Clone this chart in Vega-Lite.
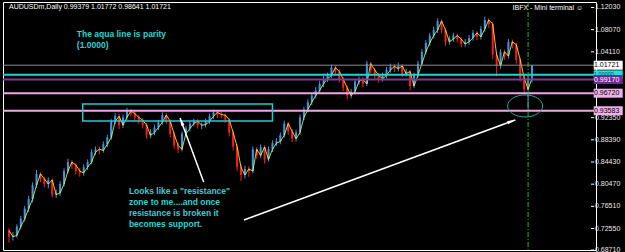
{
 "$schema": "https://vega.github.io/schema/vega-lite/v6.json",
 "width": 593, "height": 248,
 "autosize": {"type": "none"},
 "padding": {"left": 3, "top": 2, "right": 29, "bottom": 2},
 "background": "#000000",
 "config": {"view": {"stroke": "#ffffff", "strokeWidth": 1, "fill": "#000000"}, "font": "Liberation Sans"},
 "datasets": {
  "candles": [
{"i":0,"o":0.722,"h":0.726,"l":0.700,"c":0.711},
{"i":1,"o":0.711,"h":0.719,"l":0.704,"c":0.713},
{"i":2,"o":0.713,"h":0.733,"l":0.709,"c":0.729},
{"i":3,"o":0.729,"h":0.748,"l":0.724,"c":0.743},
{"i":4,"o":0.743,"h":0.766,"l":0.738,"c":0.761},
{"i":5,"o":0.761,"h":0.784,"l":0.755,"c":0.778},
{"i":6,"o":0.778,"h":0.808,"l":0.772,"c":0.803},
{"i":7,"o":0.803,"h":0.830,"l":0.798,"c":0.823},
{"i":8,"o":0.823,"h":0.826,"l":0.808,"c":0.814},
{"i":9,"o":0.814,"h":0.818,"l":0.799,"c":0.805},
{"i":10,"o":0.805,"h":0.817,"l":0.797,"c":0.812},
{"i":11,"o":0.812,"h":0.815,"l":0.781,"c":0.786},
{"i":12,"o":0.786,"h":0.795,"l":0.780,"c":0.789},
{"i":13,"o":0.789,"h":0.810,"l":0.784,"c":0.805},
{"i":14,"o":0.805,"h":0.833,"l":0.801,"c":0.828},
{"i":15,"o":0.828,"h":0.850,"l":0.824,"c":0.844},
{"i":16,"o":0.844,"h":0.848,"l":0.832,"c":0.839},
{"i":17,"o":0.839,"h":0.842,"l":0.822,"c":0.828},
{"i":18,"o":0.828,"h":0.834,"l":0.818,"c":0.825},
{"i":19,"o":0.825,"h":0.840,"l":0.820,"c":0.835},
{"i":20,"o":0.835,"h":0.849,"l":0.830,"c":0.844},
{"i":21,"o":0.844,"h":0.867,"l":0.840,"c":0.862},
{"i":22,"o":0.862,"h":0.872,"l":0.857,"c":0.867},
{"i":23,"o":0.867,"h":0.872,"l":0.858,"c":0.865},
{"i":24,"o":0.865,"h":0.881,"l":0.861,"c":0.876},
{"i":25,"o":0.876,"h":0.893,"l":0.871,"c":0.888},
{"i":26,"o":0.888,"h":0.921,"l":0.884,"c":0.917},
{"i":27,"o":0.917,"h":0.932,"l":0.912,"c":0.926},
{"i":28,"o":0.926,"h":0.930,"l":0.903,"c":0.910},
{"i":29,"o":0.910,"h":0.929,"l":0.905,"c":0.924},
{"i":30,"o":0.924,"h":0.941,"l":0.919,"c":0.935},
{"i":31,"o":0.935,"h":0.939,"l":0.925,"c":0.931},
{"i":32,"o":0.931,"h":0.935,"l":0.918,"c":0.924},
{"i":33,"o":0.924,"h":0.928,"l":0.912,"c":0.919},
{"i":34,"o":0.919,"h":0.923,"l":0.904,"c":0.910},
{"i":35,"o":0.910,"h":0.914,"l":0.886,"c":0.892},
{"i":36,"o":0.892,"h":0.903,"l":0.887,"c":0.897},
{"i":37,"o":0.897,"h":0.911,"l":0.892,"c":0.906},
{"i":38,"o":0.906,"h":0.920,"l":0.901,"c":0.915},
{"i":39,"o":0.915,"h":0.933,"l":0.911,"c":0.928},
{"i":40,"o":0.928,"h":0.932,"l":0.912,"c":0.917},
{"i":41,"o":0.917,"h":0.920,"l":0.888,"c":0.894},
{"i":42,"o":0.894,"h":0.898,"l":0.868,"c":0.874},
{"i":43,"o":0.874,"h":0.879,"l":0.860,"c":0.867},
{"i":44,"o":0.867,"h":0.899,"l":0.863,"c":0.895},
{"i":45,"o":0.895,"h":0.909,"l":0.890,"c":0.904},
{"i":46,"o":0.904,"h":0.918,"l":0.899,"c":0.913},
{"i":47,"o":0.913,"h":0.922,"l":0.908,"c":0.917},
{"i":48,"o":0.917,"h":0.921,"l":0.904,"c":0.910},
{"i":49,"o":0.910,"h":0.915,"l":0.903,"c":0.911},
{"i":50,"o":0.911,"h":0.922,"l":0.906,"c":0.917},
{"i":51,"o":0.917,"h":0.931,"l":0.912,"c":0.926},
{"i":52,"o":0.926,"h":0.938,"l":0.921,"c":0.933},
{"i":53,"o":0.933,"h":0.937,"l":0.923,"c":0.929},
{"i":54,"o":0.929,"h":0.934,"l":0.922,"c":0.928},
{"i":55,"o":0.928,"h":0.931,"l":0.914,"c":0.920},
{"i":56,"o":0.920,"h":0.923,"l":0.890,"c":0.897},
{"i":57,"o":0.897,"h":0.900,"l":0.865,"c":0.872},
{"i":58,"o":0.872,"h":0.876,"l":0.828,"c":0.835},
{"i":59,"o":0.835,"h":0.840,"l":0.810,"c":0.821},
{"i":60,"o":0.821,"h":0.838,"l":0.815,"c":0.832},
{"i":61,"o":0.832,"h":0.837,"l":0.818,"c":0.828},
{"i":62,"o":0.828,"h":0.872,"l":0.824,"c":0.867},
{"i":63,"o":0.867,"h":0.871,"l":0.850,"c":0.856},
{"i":64,"o":0.856,"h":0.876,"l":0.851,"c":0.871},
{"i":65,"o":0.871,"h":0.874,"l":0.842,"c":0.849},
{"i":66,"o":0.849,"h":0.872,"l":0.845,"c":0.867},
{"i":67,"o":0.867,"h":0.883,"l":0.862,"c":0.878},
{"i":68,"o":0.878,"h":0.887,"l":0.873,"c":0.881},
{"i":69,"o":0.881,"h":0.897,"l":0.876,"c":0.892},
{"i":70,"o":0.892,"h":0.918,"l":0.888,"c":0.913},
{"i":71,"o":0.913,"h":0.916,"l":0.893,"c":0.899},
{"i":72,"o":0.899,"h":0.903,"l":0.880,"c":0.886},
{"i":73,"o":0.886,"h":0.902,"l":0.881,"c":0.897},
{"i":74,"o":0.897,"h":0.929,"l":0.893,"c":0.924},
{"i":75,"o":0.924,"h":0.943,"l":0.919,"c":0.938},
{"i":76,"o":0.938,"h":0.956,"l":0.933,"c":0.951},
{"i":77,"o":0.951,"h":0.968,"l":0.946,"c":0.963},
{"i":78,"o":0.963,"h":0.978,"l":0.958,"c":0.972},
{"i":79,"o":0.972,"h":0.989,"l":0.967,"c":0.984},
{"i":80,"o":0.984,"h":0.998,"l":0.978,"c":0.993},
{"i":81,"o":0.993,"h":1.004,"l":0.987,"c":0.999},
{"i":82,"o":0.999,"h":1.018,"l":0.994,"c":1.013},
{"i":83,"o":1.013,"h":1.016,"l":1.000,"c":1.006},
{"i":84,"o":1.006,"h":1.010,"l":0.986,"c":0.992},
{"i":85,"o":0.992,"h":0.996,"l":0.971,"c":0.977},
{"i":86,"o":0.977,"h":0.980,"l":0.956,"c":0.963},
{"i":87,"o":0.963,"h":0.975,"l":0.958,"c":0.970},
{"i":88,"o":0.970,"h":0.993,"l":0.965,"c":0.988},
{"i":89,"o":0.988,"h":0.997,"l":0.983,"c":0.992},
{"i":90,"o":0.992,"h":0.996,"l":0.978,"c":0.984},
{"i":91,"o":0.984,"h":1.025,"l":0.980,"c":1.020},
{"i":92,"o":1.020,"h":1.023,"l":1.003,"c":1.009},
{"i":93,"o":1.009,"h":1.012,"l":0.993,"c":0.999},
{"i":94,"o":0.999,"h":1.003,"l":0.986,"c":0.993},
{"i":95,"o":0.993,"h":1.004,"l":0.988,"c":0.999},
{"i":96,"o":0.999,"h":1.014,"l":0.994,"c":1.009},
{"i":97,"o":1.009,"h":1.020,"l":1.004,"c":1.015},
{"i":98,"o":1.015,"h":1.019,"l":1.005,"c":1.011},
{"i":99,"o":1.011,"h":1.022,"l":1.006,"c":1.016},
{"i":100,"o":1.016,"h":1.019,"l":0.996,"c":1.002},
{"i":101,"o":1.002,"h":1.011,"l":0.997,"c":1.006},
{"i":102,"o":1.006,"h":1.009,"l":0.972,"c":0.980},
{"i":103,"o":0.980,"h":1.004,"l":0.976,"c":0.999},
{"i":104,"o":0.999,"h":1.025,"l":0.995,"c":1.020},
{"i":105,"o":1.020,"h":1.046,"l":1.016,"c":1.041},
{"i":106,"o":1.041,"h":1.062,"l":1.036,"c":1.057},
{"i":107,"o":1.057,"h":1.075,"l":1.052,"c":1.070},
{"i":108,"o":1.070,"h":1.086,"l":1.065,"c":1.080},
{"i":109,"o":1.080,"h":1.101,"l":1.075,"c":1.096},
{"i":110,"o":1.096,"h":1.099,"l":1.074,"c":1.080},
{"i":111,"o":1.080,"h":1.083,"l":1.052,"c":1.059},
{"i":112,"o":1.059,"h":1.069,"l":1.054,"c":1.064},
{"i":113,"o":1.064,"h":1.075,"l":1.059,"c":1.070},
{"i":114,"o":1.070,"h":1.073,"l":1.058,"c":1.064},
{"i":115,"o":1.064,"h":1.067,"l":1.049,"c":1.055},
{"i":116,"o":1.055,"h":1.064,"l":1.050,"c":1.059},
{"i":117,"o":1.059,"h":1.071,"l":1.054,"c":1.066},
{"i":118,"o":1.066,"h":1.080,"l":1.061,"c":1.075},
{"i":119,"o":1.075,"h":1.078,"l":1.062,"c":1.068},
{"i":120,"o":1.068,"h":1.087,"l":1.063,"c":1.082},
{"i":121,"o":1.082,"h":1.104,"l":1.077,"c":1.098},
{"i":122,"o":1.098,"h":1.101,"l":1.084,"c":1.091},
{"i":123,"o":1.091,"h":1.094,"l":1.028,"c":1.036},
{"i":124,"o":1.036,"h":1.040,"l":0.997,"c":1.016},
{"i":125,"o":1.016,"h":1.046,"l":1.011,"c":1.041},
{"i":126,"o":1.041,"h":1.045,"l":1.027,"c":1.034},
{"i":127,"o":1.034,"h":1.064,"l":1.029,"c":1.059},
{"i":128,"o":1.059,"h":1.063,"l":1.047,"c":1.054},
{"i":129,"o":1.054,"h":1.057,"l":1.020,"c":1.027},
{"i":130,"o":1.027,"h":1.030,"l":0.988,"c":0.995},
{"i":131,"o":0.995,"h":0.999,"l":0.966,"c":0.974},
{"i":132,"o":0.974,"h":0.998,"l":0.938,"c":0.9938},
{"i":133,"o":0.99379,"h":1.01772,"l":0.98641,"c":1.01721}
  ],
  "levels": [
   {"name": "price", "p": 1.01721},
   {"name": "parity", "p": 1.0},
   {"name": "purple", "p": 0.9917},
   {"name": "pink1", "p": 0.9672},
   {"name": "pink2", "p": 0.93583}
  ],
  "ticks": [
   {"v": 1.1203}, {"v": 1.0807}, {"v": 1.0411}, {"v": 0.9235}, {"v": 0.8839},
   {"v": 0.8443}, {"v": 0.8047}, {"v": 0.7651}, {"v": 0.7255}, {"v": 0.6871}
  ]
 },
 "layer": [
  {
   "data": {"name": "candles"},
   "mark": {"type": "rule", "strokeWidth": 1},
   "encoding": {
    "x": {"field": "i", "type": "quantitative", "scale": {"domain": [-0.25, 148], "nice": false, "zero": false}, "axis": null},
    "y": {"field": "l", "type": "quantitative", "scale": {"domain": [0.6871, 1.1301], "nice": false, "zero": false}, "axis": null},
    "y2": {"field": "h"},
    "color": {"condition": {"test": "datum.c >= datum.o", "value": "#3399ee"}, "value": "#ff1a1a"}
   }
  },
  {
   "data": {"name": "candles"},
   "mark": {"type": "bar", "width": 2},
   "encoding": {
    "x": {"field": "i", "type": "quantitative"},
    "y": {"field": "o", "type": "quantitative"},
    "y2": {"field": "c"},
    "color": {"condition": {"test": "datum.c >= datum.o", "value": "#3399ee"}, "value": "#ff1a1a"}
   }
  },
  {
   "data": {"name": "candles"},
   "mark": {"type": "line", "color": "#ffff33", "strokeWidth": 1, "opacity": 0.8},
   "encoding": {
    "x": {"field": "i", "type": "quantitative"},
    "y": {"field": "o", "type": "quantitative"}
   }
  },
  {
   "data": {"name": "ticks"},
   "mark": {"type": "rule", "color": "#ffffff", "strokeWidth": 1, "clip": false},
   "encoding": {
    "x": {"datum": 148, "type": "quantitative"}, "x2": {"datum": 148.8},
    "y": {"field": "v", "type": "quantitative"}
   }
  },
  {
   "data": {"name": "ticks"},
   "mark": {"type": "text", "align": "left", "baseline": "middle", "dx": 4, "fontSize": 7, "clip": false, "color": "#e8e8e8"},
   "encoding": {
    "x": {"datum": 148, "type": "quantitative"},
    "y": {"field": "v", "type": "quantitative"},
    "text": {"field": "v", "type": "quantitative", "format": ".5f"}
   }
  },
  {
   "data": {"name": "levels"},
   "mark": {"type": "rule"},
   "encoding": {
    "y": {"field": "p", "type": "quantitative"},
    "color": {"field": "name", "type": "nominal", "legend": null,
     "scale": {"domain": ["price", "parity", "purple", "pink1", "pink2"], "range": ["#8c8c8c", "#22d3d3", "#7d3a9e", "#f2a6e6", "#f2a6e6"]}},
    "strokeWidth": {"condition": {"test": "datum.name === 'price'", "value": 1}, "value": 2}
   }
  },
  {
   "data": {"name": "levels"},
   "transform": [{"filter": "datum.name !== 'purple'"}],
   "mark": {"type": "point", "shape": "M-1,-0.31H1V0.31H-1Z", "size": 841, "filled": true, "opacity": 1, "clip": false},
   "encoding": {
    "x": {"datum": 152.375, "type": "quantitative"},
    "y": {"field": "p", "type": "quantitative"},
    "fill": {"field": "name", "type": "nominal", "legend": null,
     "scale": {"domain": ["price", "parity", "purple", "pink1", "pink2"], "range": ["#ffffff", "#22e0e0", "#6f2b95", "#f2b0e8", "#f2b0e8"]}}
   }
  },
  {
   "data": {"name": "levels"},
   "transform": [{"filter": "datum.name !== 'purple' && datum.name !== 'parity'"}],
   "mark": {"type": "text", "align": "left", "baseline": "middle", "dx": 3, "fontSize": 7, "clip": false, "color": "#000000"},
   "encoding": {
    "x": {"datum": 148, "type": "quantitative"},
    "y": {"field": "p", "type": "quantitative"},
    "text": {"field": "p", "type": "quantitative", "format": ".5f"}
   }
  },
  {
   "data": {"name": "levels"},
   "transform": [{"filter": "datum.name === 'parity'"}],
   "mark": {"type": "text", "align": "left", "baseline": "middle", "dx": 3, "dy": -1, "fontSize": 5.5, "clip": false, "color": "#0a4a4a"},
   "encoding": {
    "x": {"datum": 148, "type": "quantitative"},
    "y": {"field": "p", "type": "quantitative"},
    "text": {"field": "p", "type": "quantitative", "format": ".5f"}
   }
  },
  {
   "data": {"name": "levels"},
   "transform": [{"filter": "datum.name === 'purple'"}],
   "mark": {"type": "point", "shape": "M-1,-0.31H1V0.31H-1Z", "size": 841, "filled": true, "opacity": 1, "clip": false, "color": "#6f2b95"},
   "encoding": {
    "x": {"datum": 152.375, "type": "quantitative"},
    "y": {"field": "p", "type": "quantitative"}
   }
  },
  {
   "data": {"name": "levels"},
   "transform": [{"filter": "datum.name === 'purple'"}],
   "mark": {"type": "text", "align": "left", "baseline": "middle", "dx": 3, "dy": 0.5, "fontSize": 7, "clip": false, "color": "#ffffff"},
   "encoding": {
    "x": {"datum": 148, "type": "quantitative"},
    "y": {"field": "p", "type": "quantitative"},
    "text": {"field": "p", "type": "quantitative", "format": ".5f"}
   }
  },
  {
   "data": {"values": [{}]},
   "mark": {"type": "rule", "color": "#1fbf1f", "strokeWidth": 1, "strokeDash": [5, 2, 1, 2]},
   "encoding": {"x": {"datum": 132, "type": "quantitative"}}
  },
  {
   "data": {"values": [{}]},
   "mark": {"type": "rect", "fillOpacity": 0, "stroke": "#22cccc", "strokeWidth": 1.5},
   "encoding": {
    "x": {"datum": 18.75, "type": "quantitative"}, "x2": {"datum": 67},
    "y": {"datum": 0.9479, "type": "quantitative"}, "y2": {"datum": 0.9176}
   }
  },
  {
   "data": {"values": [{}]},
   "mark": {"type": "point", "shape": "M-1,0A1,0.63 0 1,0 1,0A1,0.63 0 1,0 -1,0", "size": 1225, "filled": false, "stroke": "#1fa8a8", "strokeWidth": 1, "opacity": 1},
   "encoding": {"x": {"datum": 131.25, "type": "quantitative"}, "y": {"datum": 0.9444, "type": "quantitative"}}
  },
  {
   "data": {"values": [{}]},
   "mark": {"type": "rule", "color": "#ffffff", "strokeWidth": 1.5},
   "encoding": {
    "x": {"datum": 49.5, "type": "quantitative"}, "y": {"datum": 0.8086, "type": "quantitative"},
    "x2": {"datum": 43.5}, "y2": {"datum": 0.9229}
   }
  },
  {
   "data": {"values": [{}]},
   "mark": {"type": "point", "shape": "M0,0L-0.35,1.6L0.35,1.6Z", "size": 100, "filled": true, "color": "#ffffff", "opacity": 1, "angle": 339.4},
   "encoding": {"x": {"datum": 43.5, "type": "quantitative"}, "y": {"datum": 0.9229, "type": "quantitative"}}
  },
  {
   "data": {"values": [{}]},
   "mark": {"type": "rule", "color": "#ffffff", "strokeWidth": 1.5},
   "encoding": {
    "x": {"datum": 59.75, "type": "quantitative"}, "y": {"datum": 0.7408, "type": "quantitative"},
    "x2": {"datum": 128.75}, "y2": {"datum": 0.9194}
   }
  },
  {
   "data": {"values": [{}]},
   "mark": {"type": "point", "shape": "M0,0L-0.35,1.6L0.35,1.6Z", "size": 100, "filled": true, "color": "#ffffff", "opacity": 1, "angle": 70.1},
   "encoding": {"x": {"datum": 128.75, "type": "quantitative"}, "y": {"datum": 0.9194, "type": "quantitative"}}
  },
  {
   "data": {"values": [{}]},
   "mark": {"type": "text", "align": "left", "baseline": "middle", "fontSize": 7, "color": "#ffffff", "dx": 1},
   "encoding": {"x": {"datum": -0.25, "type": "quantitative"}, "y": {"datum": 1.1212, "type": "quantitative"},
    "text": {"value": "AUDUSDm,Daily  0.99379 1.01772 0.98641 1.01721"}}
  },
  {
   "data": {"values": [{}]},
   "mark": {"type": "text", "align": "right", "baseline": "middle", "fontSize": 7, "color": "#ffffff"},
   "encoding": {"x": {"datum": 146, "type": "quantitative"}, "y": {"datum": 1.1194, "type": "quantitative"},
    "text": {"value": "IBFX - Mini terminal ☺"}}
  },
  {
   "data": {"values": [{}]},
   "mark": {"type": "text", "align": "left", "baseline": "alphabetic", "fontSize": 8.5, "fontWeight": "bold", "color": "#30d0d0", "lineHeight": 11},
   "encoding": {"x": {"datum": 17.25, "type": "quantitative"}, "y": {"datum": 1.0667, "type": "quantitative"},
    "text": {"value": ["The aqua line is parity", "(1.0000)"]}}
  },
  {
   "data": {"values": [{}]},
   "mark": {"type": "text", "align": "left", "baseline": "alphabetic", "fontSize": 8.5, "fontWeight": "bold", "color": "#30d0d0", "lineHeight": 10.7},
   "encoding": {"x": {"datum": 30.5, "type": "quantitative"}, "y": {"datum": 0.7863, "type": "quantitative"},
    "text": {"value": ["Looks like a \"resistance\"", "zone to me....and once", "resistance is broken it", "becomes support."]}}
  }
 ]
}
